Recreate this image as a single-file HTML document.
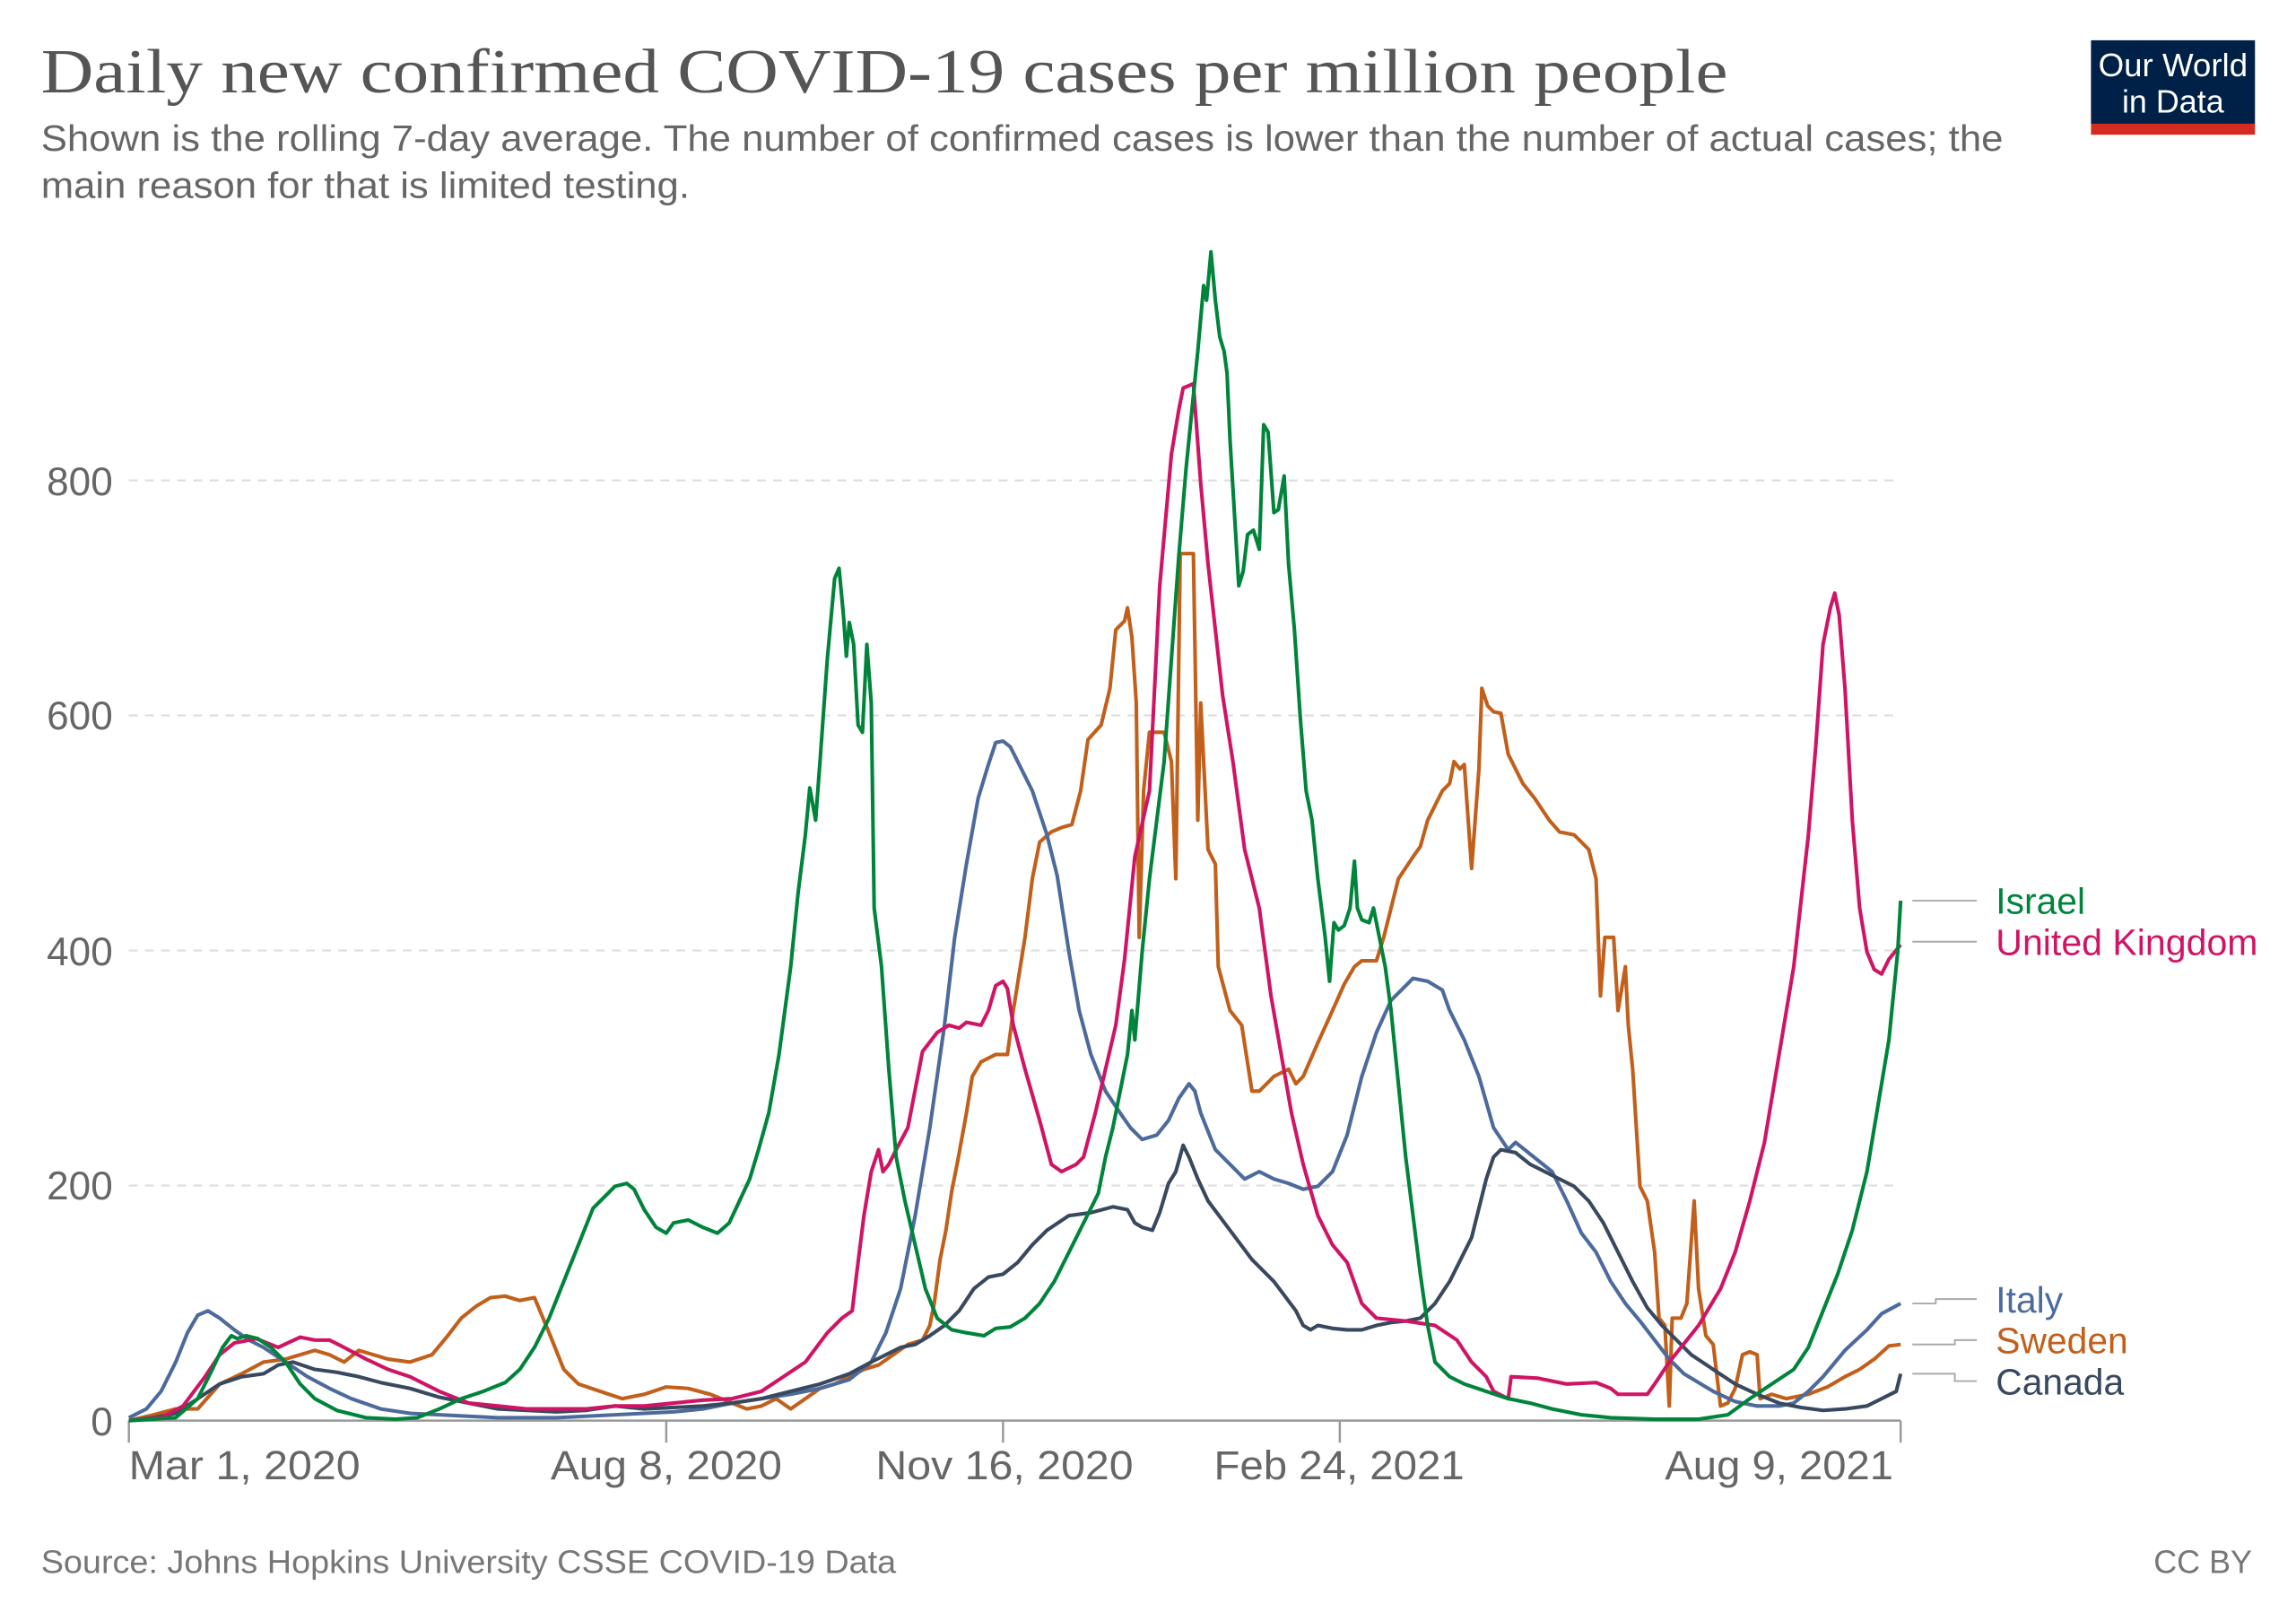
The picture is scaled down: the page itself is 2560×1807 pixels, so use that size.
<!DOCTYPE html>
<html><head><meta charset="utf-8"><style>
html,body{margin:0;padding:0;background:#fff;}
svg{display:block;}
text{font-family:"Liberation Sans",sans-serif;}
</style></head><body>
<svg width="2560" height="1807" viewBox="0 0 1568 1106.8" xmlns="http://www.w3.org/2000/svg">
<rect width="1568" height="1107" fill="#fff"/>
<text x="28" y="63" style="font-family:'Liberation Serif',serif" font-size="43" fill="#555" textLength="1152" lengthAdjust="spacingAndGlyphs">Daily new confirmed COVID-19 cases per million people</text>
<text x="28" y="103" font-size="25" fill="#666" textLength="1340" lengthAdjust="spacingAndGlyphs">Shown is the rolling 7-day average. The number of confirmed cases is lower than the number of actual cases; the</text>
<text x="28" y="135" font-size="25" fill="#666" textLength="443" lengthAdjust="spacingAndGlyphs">main reason for that is limited testing.</text>
<rect x="1428" y="27.5" width="112" height="57" fill="#002147"/>
<rect x="1428" y="84.5" width="112" height="7.5" fill="#d42b21"/>
<text x="1484" y="52" font-size="22" fill="#fff" text-anchor="middle" textLength="102" lengthAdjust="spacingAndGlyphs">Our World</text>
<text x="1484" y="77" font-size="22" fill="#fff" text-anchor="middle">in Data</text>
<g stroke="#ddd" stroke-width="1.3" stroke-dasharray="6,5">
<line x1="88" x2="1298" y1="809.5" y2="809.5"/><line x1="88" x2="1298" y1="649" y2="649"/><line x1="88" x2="1298" y1="488.5" y2="488.5"/><line x1="88" x2="1298" y1="328" y2="328"/>
</g>
<g font-size="27" fill="#666" text-anchor="end">
<text x="77" y="980">0</text><text x="77" y="819">200</text><text x="77" y="659">400</text><text x="77" y="498">600</text><text x="77" y="338">800</text>
</g>
<g stroke="#999" stroke-width="1.5">
<line x1="88" x2="1298" y1="970" y2="970"/>
<line x1="88" x2="88" y1="970" y2="985"/><line x1="455" x2="455" y1="970" y2="985"/><line x1="685" x2="685" y1="970" y2="985"/><line x1="915" x2="915" y1="970" y2="985"/><line x1="1298" x2="1298" y1="970" y2="985"/>
</g>
<g font-size="28" fill="#666">
<text x="88" y="1010" textLength="158" lengthAdjust="spacingAndGlyphs">Mar 1, 2020</text>
<text x="376" y="1010" textLength="158" lengthAdjust="spacingAndGlyphs">Aug 8, 2020</text>
<text x="598" y="1010" textLength="176" lengthAdjust="spacingAndGlyphs">Nov 16, 2020</text>
<text x="829" y="1010" textLength="171" lengthAdjust="spacingAndGlyphs">Feb 24, 2021</text>
<text x="1137" y="1010" textLength="156" lengthAdjust="spacingAndGlyphs">Aug 9, 2021</text>
</g>
<g fill="none" stroke-width="2.5" stroke-linejoin="round">
<polyline stroke="#c15f1b" points="88,970 105,966 120,962 135,962 150,945 165,938 180,930 195,928 205,925 215,922 225,925 235,930 245,922 255,925 265,928 280,930 295,925 305,913 315,900 325,892 335,886 345,885 355,888 365,886 375,910 385,935 395,945 410,950 425,955 440,952 455,947 470,948 485,952 500,958 510,962 520,960 530,955 540,962 550,955 560,948 570,945 580,940 590,935 600,932 610,925 620,918 630,915 635,905 638,890 642,860 646,840 650,813 654,793 660,760 664,735 670,725 680,720 688,720 692,690 700,640 705,600 710,575 718,568 725,565 732,563 738,540 743,505 752,495 758,470 762,430 768,424 770,415 773,435 776,480 778,640 781,540 785,500 795,500 800,520 803,600 806,378 815,378 818,560 820,480 822,520 825,580 830,590 832,660 840,690 848,700 855,745 860,745 865,740 870,735 880,730 885,740 890,735 900,712 910,690 918,672 925,660 930,656 940,656 945,640 950,620 955,600 965,585 970,578 975,560 985,540 990,535 993,520 997,525 1000,522 1005,593 1010,525 1012,470 1016,482 1020,486 1025,487 1030,515 1040,535 1048,545 1058,560 1065,568 1075,570 1085,580 1090,600 1093,680 1096,640 1102,640 1105,690 1110,660 1112,700 1115,730 1120,810 1125,820 1130,855 1133,900 1137,905 1140,960 1142,900 1148,900 1152,890 1157,820 1160,880 1165,912 1170,918 1175,960 1180,958 1185,948 1190,925 1195,923 1200,925 1202,955 1210,952 1220,955 1235,952 1248,947 1260,940 1270,935 1280,928 1290,919 1298,918"/>
<polyline stroke="#4c6a9c" points="88,968 100,962 110,950 120,930 128,910 135,898 142,895 150,900 160,908 170,915 180,920 195,930 210,940 225,948 240,955 260,962 280,965 300,966 320,967 340,968 360,968 380,968 400,967 420,966 440,965 460,964 480,962 500,958 520,955 540,952 560,948 580,942 595,930 605,910 615,880 625,830 635,770 645,700 652,640 660,590 668,545 675,522 680,507 685,506 690,510 695,520 705,540 715,570 722,598 730,650 737,690 745,720 755,745 765,760 772,770 780,778 790,775 798,765 805,750 812,740 816,745 820,760 830,785 840,795 850,805 860,800 870,805 880,808 890,812 900,810 910,800 920,775 930,735 940,705 950,683 960,673 965,668 975,670 985,676 990,690 1000,710 1010,735 1020,770 1030,785 1035,780 1045,788 1060,800 1070,820 1080,842 1090,855 1100,875 1110,890 1120,902 1130,915 1140,928 1150,938 1160,944 1170,950 1185,957 1200,960 1215,960 1225,958 1235,950 1245,940 1260,922 1275,908 1285,897 1298,890"/>
<polyline stroke="#38495f" points="88,970 105,968 120,965 135,955 150,945 165,940 180,938 190,932 200,930 215,935 230,937 245,940 260,944 280,948 300,954 320,958 340,962 360,963 380,964 400,963 420,960 440,962 460,961 480,960 500,958 520,955 540,950 560,945 580,938 595,930 605,925 615,920 625,918 635,912 645,905 655,895 665,880 675,872 685,870 695,862 705,850 715,840 730,830 745,828 760,824 770,826 775,835 780,838 787,840 792,828 798,808 803,800 808,782 812,790 818,805 825,820 840,840 855,860 870,875 885,895 890,905 895,908 900,905 910,907 920,908 930,908 940,905 950,903 960,902 970,900 980,890 990,875 1000,855 1005,845 1010,825 1015,805 1020,790 1025,785 1035,787 1045,795 1055,800 1065,805 1075,810 1085,820 1095,835 1105,855 1115,875 1125,893 1135,905 1145,915 1155,925 1170,935 1185,945 1200,952 1215,958 1230,961 1245,963 1260,962 1275,960 1285,955 1295,950 1298,938"/>
<polyline stroke="#d01464" points="88,970 110,968 125,960 140,940 150,925 160,917 175,914 190,920 205,913 215,915 225,915 235,920 250,928 265,935 280,940 300,950 320,958 340,960 360,962 380,962 400,962 420,960 440,960 460,958 480,956 500,955 520,950 535,940 550,930 565,910 575,900 582,895 585,870 590,830 595,800 600,785 603,800 607,795 612,785 620,770 630,718 640,705 648,700 655,702 660,698 670,700 675,690 680,673 685,670 688,675 692,700 700,730 710,765 718,795 725,800 735,795 740,790 748,760 755,730 762,700 768,655 775,585 785,540 792,400 800,310 805,280 808,265 815,262 820,330 825,385 830,430 835,475 842,520 850,580 860,620 868,680 875,720 882,760 890,795 900,830 910,850 920,862 930,890 940,900 960,902 980,905 995,915 1005,930 1015,940 1020,950 1030,955 1032,940 1050,941 1070,945 1090,944 1100,948 1105,952 1125,952 1130,945 1140,930 1160,905 1175,880 1185,855 1195,820 1205,780 1215,720 1225,660 1235,570 1240,510 1245,440 1250,415 1253,405 1256,420 1260,470 1265,560 1270,620 1275,650 1280,662 1285,665 1290,655 1298,645"/>
<polyline stroke="#00843b" points="88,970 120,968 135,955 145,935 152,920 158,912 162,914 168,912 176,914 185,920 195,930 205,945 215,955 230,963 250,968 270,969 285,968 300,962 315,955 330,950 345,944 355,935 365,920 375,900 385,875 395,850 405,825 412,818 420,810 428,808 433,812 440,826 448,838 455,842 460,835 470,833 480,838 490,842 498,835 505,820 512,805 518,785 525,760 532,720 540,660 545,610 550,570 553,538 557,560 560,520 565,450 570,395 573,388 576,420 578,448 580,425 583,440 586,495 589,500 592,440 595,480 597,620 602,660 607,730 612,790 618,820 625,850 632,880 640,900 650,908 660,910 672,912 680,907 690,906 700,900 710,890 720,875 730,855 740,835 750,815 755,790 760,770 765,745 770,720 773,690 775,710 780,650 785,600 790,560 795,520 800,450 805,380 810,320 815,270 818,240 822,195 824,205 827,172 830,205 833,230 836,240 838,255 840,300 843,350 846,400 849,390 852,365 856,362 860,375 863,290 866,295 870,350 873,348 877,325 880,385 884,430 888,490 892,540 896,560 900,600 905,640 908,670 911,630 914,635 918,632 922,620 925,588 927,620 930,628 935,630 938,620 942,640 946,660 950,690 955,740 960,790 965,830 970,870 975,905 980,930 990,940 1000,945 1015,950 1030,955 1045,958 1060,962 1080,966 1100,968 1130,969 1160,969 1180,966 1195,955 1210,945 1225,935 1235,920 1245,895 1255,870 1265,840 1275,800 1285,740 1290,710 1293,680 1296,650 1298,615"/>
</g>
<g stroke="#aaa" stroke-width="1.2" fill="none">
<polyline points="1306,615 1350,615"/>
<polyline points="1306,643 1350,643"/>
<polyline points="1306,890 1322,890 1322,887 1350,887"/>
<polyline points="1306,918 1335,918 1335,915 1350,915"/>
<polyline points="1306,938 1335,938 1335,943 1350,943"/>
</g>
<g font-size="25">
<text x="1363" y="624" fill="#00843b">Israel</text>
<text x="1363" y="652" fill="#d01464" textLength="179" lengthAdjust="spacingAndGlyphs">United Kingdom</text>
<text x="1363" y="896" fill="#4c6a9c">Italy</text>
<text x="1363" y="924" fill="#c15f1b">Sweden</text>
<text x="1363" y="952" fill="#38495f">Canada</text>
</g>
<text x="28" y="1074" font-size="22" fill="#777" textLength="584" lengthAdjust="spacingAndGlyphs">Source: Johns Hopkins University CSSE COVID-19 Data</text>
<text x="1538" y="1074" font-size="22" fill="#777" text-anchor="end">CC BY</text>
</svg>
</body></html>
